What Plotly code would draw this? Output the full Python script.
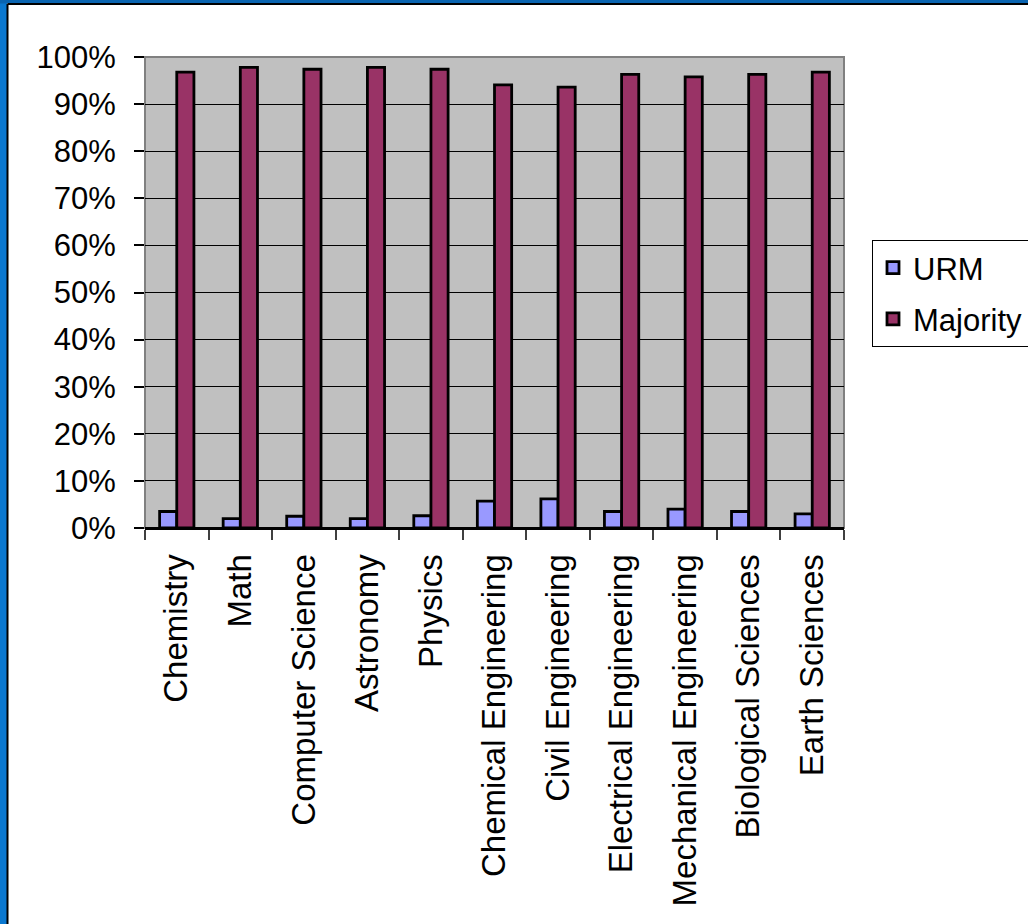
import plotly.graph_objects as go

categories = ["Chemistry", "Math", "Computer Science", "Astronomy", "Physics",
              "Chemical Engineering", "Civil Engineering", "Electrical Engineering",
              "Mechanical Engineering", "Biological Sciences", "Earth Sciences"]
urm = [3.5, 2.0, 2.5, 2.0, 2.6, 5.7, 6.2, 3.5, 4.0, 3.5, 3.0]
majority = [96.8, 97.8, 97.4, 97.8, 97.4, 94.1, 93.6, 96.3, 95.8, 96.3, 96.8]
y_ticks = [0, 10, 20, 30, 40, 50, 60, 70, 80, 90, 100]
y_labels = [f"{v}%" for v in y_ticks]

W, H = 1028, 924
L, R, T, B = 145, 844, 57, 528

def px_x(p):
    return (p - L) / (R - L)

def px_y(p):
    return (B - p) / (B - T)

fig = go.Figure()
fig.add_trace(go.Bar(x=categories, y=urm, name="URM", legendgroup="a",
                     marker=dict(color="#9999FF", line=dict(color="black", width=2.8))))
fig.add_trace(go.Bar(x=categories, y=majority, name="Majority", legendgroup="b",
                     marker=dict(color="#993366", line=dict(color="black", width=2.8))))

font = "Liberation Sans, Arial, sans-serif"
fig.update_layout(
    width=W, height=H,
    margin=dict(l=L, r=W - R, t=T, b=H - B, pad=0, autoexpand=False),
    paper_bgcolor="white", plot_bgcolor="#C0C0C0",
    barmode="group", bargap=0.46, bargroupgap=0,
    font=dict(family=font, size=31, color="black"),
    showlegend=True,
    legend=dict(xref="container", yref="container",
                x=872 / W, y=1 - 240 / H, xanchor="left", yanchor="top",
                bgcolor="white", bordercolor="black", borderwidth=1,
                font=dict(family=font, size=31, color="black"),
                itemwidth=30, tracegroupgap=8, traceorder="grouped"),
    xaxis=dict(showline=True, linecolor="black", linewidth=2,
               ticks="outside", tickson="boundaries", ticklen=10, tickcolor="#404040",
               tickwidth=2, tickangle=-90, tickfont=dict(size=33),
               ticklabelstandoff=11, showgrid=False, automargin=False),
    yaxis=dict(range=[0, 100], tickvals=y_ticks, ticktext=y_labels,
               showgrid=True, gridcolor="black", gridwidth=1,
               ticks="outside", ticklen=10, tickcolor="black", tickwidth=1.5,
               showline=False, zeroline=False, tickfont=dict(size=31),
               ticklabelstandoff=12, automargin=False),
    shapes=[
        dict(type="rect", xref="paper", yref="paper", x0=0, x1=1, y0=0, y1=1,
             line=dict(color="#808080", width=2), layer="below"),
        dict(type="line", xref="paper", yref="paper", x0=0, x1=1, y0=0, y1=0,
             line=dict(color="black", width=2)),
        dict(type="rect", xref="paper", yref="paper", x0=px_x(-2), x1=px_x(7),
             y0=px_y(930), y1=px_y(-2), fillcolor="#0a78d0", line=dict(width=0)),
        dict(type="rect", xref="paper", yref="paper", x0=px_x(-2), x1=px_x(1030),
             y0=px_y(3.5), y1=px_y(-2), fillcolor="#0a64b0", line=dict(width=0)),
        dict(type="line", xref="paper", yref="paper", x0=px_x(7.5), x1=px_x(1030),
             y0=px_y(4), y1=px_y(4), line=dict(color="black", width=2)),
        dict(type="line", xref="paper", yref="paper", x0=px_x(7.5), x1=px_x(7.5),
             y0=px_y(4), y1=px_y(930), line=dict(color="black", width=2)),
    ],
)

fig.write_html("out.html")
